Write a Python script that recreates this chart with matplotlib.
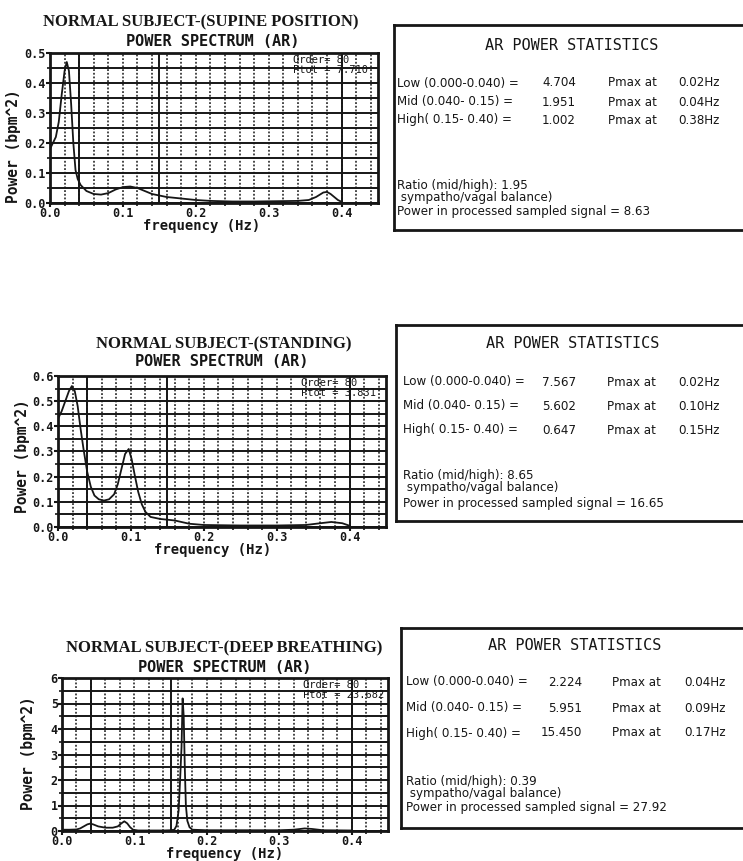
import matplotlib
matplotlib.use("Agg")
import matplotlib.pyplot as plt
from matplotlib.ticker import MultipleLocator

W, H = 743, 861

# ---- spectrum data (frequency in Hz, power in bpm^2) ----
freq_supine = [0.0, 0.004, 0.008, 0.012, 0.016, 0.02, 0.023, 0.026, 0.029, 0.032,
               0.035, 0.038, 0.042, 0.05, 0.06, 0.07, 0.08, 0.09, 0.1, 0.11,
               0.12, 0.13, 0.14, 0.16, 0.18, 0.2, 0.22, 0.25, 0.28, 0.31,
               0.34, 0.355, 0.365, 0.375, 0.38, 0.385, 0.39, 0.395, 0.4]
power_supine = [0.18, 0.2, 0.22, 0.27, 0.36, 0.44, 0.47, 0.44, 0.33, 0.2,
                0.11, 0.08, 0.06, 0.04, 0.03, 0.028, 0.033, 0.045, 0.053, 0.055,
                0.05, 0.04, 0.03, 0.02, 0.015, 0.01, 0.007, 0.005, 0.005, 0.006,
                0.007, 0.01, 0.02, 0.035, 0.037, 0.03, 0.02, 0.01, 0.004]

freq_standing = [0.0, 0.005, 0.01, 0.015, 0.019, 0.023, 0.027, 0.031, 0.035, 0.04,
                 0.045, 0.05, 0.056, 0.063, 0.07, 0.077, 0.082, 0.087, 0.092, 0.097,
                 0.101, 0.105, 0.11, 0.115, 0.12, 0.127, 0.14, 0.16, 0.18, 0.2,
                 0.25, 0.3, 0.34, 0.36, 0.375, 0.39, 0.4]
power_standing = [0.43, 0.46, 0.5, 0.54, 0.56, 0.54, 0.48, 0.39, 0.31, 0.22,
                  0.16, 0.125, 0.11, 0.105, 0.11, 0.13, 0.17, 0.23, 0.29, 0.31,
                  0.27, 0.21, 0.14, 0.09, 0.06, 0.04, 0.032, 0.026, 0.013, 0.008,
                  0.006, 0.006, 0.008, 0.015, 0.02, 0.015, 0.005]

freq_deep = [0.0, 0.01, 0.02, 0.025, 0.03, 0.035, 0.039, 0.043, 0.05, 0.06,
             0.07, 0.077, 0.082, 0.086, 0.09, 0.094, 0.098, 0.105, 0.12, 0.14,
             0.15, 0.155, 0.158, 0.161, 0.163, 0.165, 0.1665, 0.168, 0.1695, 0.171,
             0.173, 0.176, 0.18, 0.2, 0.25, 0.3, 0.32, 0.335, 0.345, 0.36, 0.4]
power_deep = [0.05, 0.05, 0.06, 0.1, 0.18, 0.26, 0.29, 0.26, 0.18, 0.13,
              0.13, 0.18, 0.3, 0.38, 0.3, 0.15, 0.05, 0.02, 0.02, 0.02,
              0.03, 0.05, 0.2, 0.8, 2.0, 3.3, 5.2, 4.5, 2.5, 1.0,
              0.4, 0.15, 0.05, 0.03, 0.03, 0.03, 0.05, 0.1, 0.08, 0.03, 0.02]

titles = ["NORMAL SUBJECT-(SUPINE POSITION)", "NORMAL SUBJECT-(STANDING)",
          "NORMAL SUBJECT-(DEEP BREATHING)"]
ptot = ["7.710", "3.831", "23.682"]
y_max = [0.5, 0.6, 6]
y_major = [0.1, 0.1, 1]
y_grid = [0.05, 0.05, 0.5]
band_edges = [0.04, 0.15, 0.40]

# ---- AR power statistics ----
band_labels = ["Low (0.000-0.040) =", "Mid (0.040- 0.15) =", "High( 0.15- 0.40) ="]
band_power = [["4.704", "1.951", "1.002"],
              ["7.567", "5.602", "0.647"],
              ["2.224", "5.951", "15.450"]]
pmax_freq = [["0.02Hz", "0.04Hz", "0.38Hz"],
             ["0.02Hz", "0.10Hz", "0.15Hz"],
             ["0.04Hz", "0.09Hz", "0.17Hz"]]
ratio = ["1.95", "8.65", "0.39"]
total_power = ["8.63", "16.65", "27.92"]

MONO = "DejaVu Sans Mono"
SERIF = "Liberation Serif"
INK = "#161616"
BODY = 8.6


def fx(x):
    return x / W


def fy(y):
    return 1 - y / H


def px_axes(left, top, right, bottom):
    return [fx(left), fy(bottom), (right - left) / W, (bottom - top) / H]


fig = plt.figure(figsize=(W / 100, H / 100), dpi=100)
fig.patch.set_facecolor("white")

# pixel layout of each panel: axes box, titles, labels, stats box
axes_px = [(50, 53, 378, 203), (58, 376, 386, 527), (62, 678, 388, 831)]
title_px = [(201, 22), (224, 344), (224, 648)]
sub_px = [(213, 42), (222, 362), (225, 667)]
ylab_px = [(14, 146), (23, 456), (28, 753)]
xlab_x = [202, 213, 225]
box_px = [(394, 25, 760, 230), (396, 325, 760, 521), (401, 628, 760, 828)]
box_rows = [(45, [83, 102, 120], 185, 198, 212),
            (344, [382, 406, 430], 475, 488, 503),
            (646, [682, 708, 733], 781, 794, 808)]
box_cols = [(397, 576, 608, 678), (403, 576, 607, 678), (406, 582, 612, 684)]

series = [(freq_supine, power_supine), (freq_standing, power_standing),
          (freq_deep, power_deep)]

for i in range(3):
    ax = fig.add_axes(px_axes(*axes_px[i]))
    ax.set_xlim(0, 0.45)
    ax.set_ylim(0, y_max[i])

    # grid: solid horizontals, dotted verticals, solid band boundaries
    ax.yaxis.set_minor_locator(MultipleLocator(y_grid[i]))
    ax.yaxis.set_major_locator(MultipleLocator(y_major[i]))
    ax.xaxis.set_major_locator(MultipleLocator(0.1))
    ax.xaxis.set_minor_locator(MultipleLocator(0.02))
    ax.grid(True, which="both", axis="y", color=INK, linewidth=1.4, linestyle="-")
    ax.grid(True, which="both", axis="x", color=INK, linewidth=1.1, linestyle=(0, (1.2, 1.2)))
    for edge in band_edges:
        ax.axvline(edge, color=INK, linewidth=1.4)
    ax.set_axisbelow(True)

    f, p = series[i]
    ax.plot(f, p, color=INK, linewidth=1.3)

    for s in ax.spines.values():
        s.set_linewidth(2.0)
        s.set_color(INK)
    ax.tick_params(which="major", length=3, width=1.5, color=INK, pad=0)
    ax.tick_params(which="minor", length=2.5, width=1.2, color=INK)
    if i < 2:
        ax.yaxis.set_major_formatter(plt.FuncFormatter(lambda v, _: f"{v:.1f}"))
    else:
        ax.yaxis.set_major_formatter(plt.FuncFormatter(lambda v, _: f"{v:.0f}"))
    ax.xaxis.set_major_formatter(plt.FuncFormatter(lambda v, _: f"{v:.1f}"))
    for lab in ax.get_xticklabels() + ax.get_yticklabels():
        lab.set_fontfamily(MONO)
        lab.set_fontweight("bold")
        lab.set_fontsize(8.5)
        lab.set_color(INK)

    fig.text(fx(ylab_px[i][0]), fy(ylab_px[i][1]), "Power (bpm^2)", rotation=90,
             ha="center", va="center", fontfamily=MONO, fontweight="bold",
             fontsize=10.5, color=INK)
    fig.text(fx(xlab_x[i]), fy(axes_px[i][3] + 16), "frequency (Hz)", ha="center",
             va="top", fontfamily=MONO, fontweight="bold", fontsize=10, color=INK)

    ax.text(0.74, 0.985, "Order= 80\nPtot = " + ptot[i], transform=ax.transAxes,
            ha="left", va="top", fontfamily=MONO, fontsize=7.5, color=INK,
            linespacing=0.95)

    fig.text(fx(title_px[i][0]), fy(title_px[i][1]), titles[i], ha="center", va="center",
             fontfamily=SERIF, fontweight="bold", fontsize=12, color=INK)
    fig.text(fx(sub_px[i][0]), fy(sub_px[i][1]), "POWER SPECTRUM (AR)", ha="center",
             va="center", fontfamily=MONO, fontweight="bold", fontsize=11, color=INK)

    # statistics box
    bx = fig.add_axes(px_axes(*box_px[i]))
    bx.set_xticks([])
    bx.set_yticks([])
    for s in bx.spines.values():
        s.set_linewidth(2.0)
        s.set_color(INK)

    t_y, row_y, r_y, s_y, p_y = box_rows[i]
    x_l, x_v, x_p, x_h = box_cols[i]
    left = box_px[i][0]
    fig.text(fx((left + 743) / 2 + 3), fy(t_y), "AR POWER STATISTICS", ha="center",
             va="center", fontfamily=MONO, fontsize=11, color=INK)
    for k in range(3):
        fig.text(fx(x_l), fy(row_y[k]), band_labels[k], ha="left", va="center",
                 fontsize=BODY, color=INK)
        fig.text(fx(x_v), fy(row_y[k]), band_power[i][k], ha="right", va="center",
                 fontsize=BODY, color=INK)
        fig.text(fx(x_p), fy(row_y[k]), "Pmax at", ha="left", va="center",
                 fontsize=BODY, color=INK)
        fig.text(fx(x_h), fy(row_y[k]), pmax_freq[i][k], ha="left", va="center",
                 fontsize=BODY, color=INK)
    fig.text(fx(x_l), fy(r_y), "Ratio (mid/high): " + ratio[i], ha="left", va="center",
             fontsize=BODY, color=INK)
    fig.text(fx(x_l), fy(s_y), " sympatho/vagal balance)", ha="left", va="center",
             fontsize=BODY, color=INK)
    fig.text(fx(x_l), fy(p_y), "Power in processed sampled signal = " + total_power[i],
             ha="left", va="center", fontsize=BODY, color=INK)

fig.savefig("out.png", dpi=100, facecolor="white")
